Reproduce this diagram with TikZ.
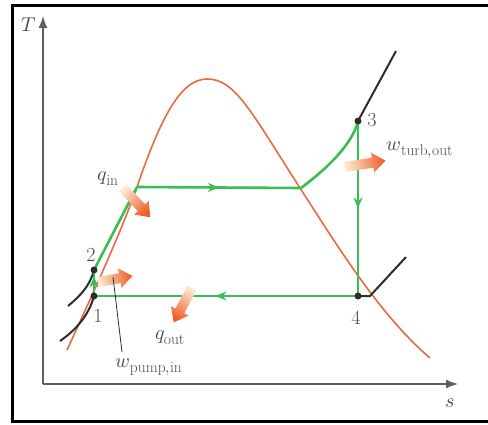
\documentclass[tikz,border=0pt]{standalone}
\usepackage{unicode-math}
\setmathfont{Latin Modern Math}
\DeclareMathSizes{20}{20}{15.5}{12}
\usetikzlibrary{arrows.meta,decorations.markings}

\definecolor{cyclegreen}{RGB}{55,190,85}
\definecolor{domered}{RGB}{232,105,68}
\definecolor{isobar}{RGB}{45,45,45}
\definecolor{axisgray}{RGB}{95,95,95}
\definecolor{labelgray}{RGB}{75,75,75}
\definecolor{heatdark}{RGB}{240,95,40}
\definecolor{heatlight}{RGB}{253,232,210}

\tikzset{
  cycle/.style={cyclegreen, line width=2.6pt},
  midarrow/.style={postaction={decorate}, decoration={markings,
      mark=at position #1 with {\arrow{Stealth[length=11pt,width=9pt]}}}},
  statept/.style={isobar, fill, circle, inner sep=0pt, minimum size=7pt},
  lbl/.style={labelgray, font=\fontsize{20}{24}\selectfont, inner sep=0pt},
  heat/.style={top color=heatdark, bottom color=heatlight, draw=none}
}

% thick shaded arrow for heat and work
\newcommand{\heatarrow}[3]{%
  \begin{scope}[shift={#1}, rotate=#2]
    \shade[heat, shading angle=#2-90] (0,-5) -- (#3-13,-5) -- (#3-13,-10)
      -- (#3,0) -- (#3-13,10) -- (#3-13,5) -- (0,5) -- cycle;
  \end{scope}}

\begin{document}
\begin{tikzpicture}[x=1pt, y=-1pt]
    \useasboundingbox (0,0) rectangle (488,424);

    % Frame
    \draw[line width=3pt] (12.5,5) rectangle (496,421);

    % Axes
    \coordinate (origin) at (43,384);
    \coordinate (taxis) at (43,16);
    \coordinate (saxis) at (458,384);
    \draw[axisgray, line width=1.3pt, -{Latex[length=12pt,width=9pt]}] (origin) -- (taxis);
    \draw[axisgray, line width=1.3pt, -{Latex[length=12pt,width=9pt]}] (origin) -- (saxis);
    \node[lbl] (tlabel) at (29,25) {$T$};
    \node[lbl] (slabel) at (450,403) {$s$};

    % Saturation dome
    \draw[domered, line width=1.6pt] (67,350) .. controls (90,300) and (120,235) .. (137,187)
      .. controls (160,120) and (180,79) .. (207,79)
      .. controls (235,79) and (250,110) .. (300,188)
      .. controls (340,250) and (380,315) .. (430,358);

    % State points
    \coordinate (p1) at (94,296);
    \coordinate (p2) at (94,270);
    \coordinate (p3) at (358,121);
    \coordinate (p4) at (358,296);
    \coordinate (satliq) at (137,187);
    \coordinate (satvap) at (301,188);
    \coordinate (crossv) at (370,296);

    % Isobars
    \draw[isobar, line width=2pt] (60,341) .. controls (76,330) and (89,315) .. (p1);
    \draw[isobar, line width=2pt] (68,306) .. controls (80,296) and (90,286) .. (p2);
    \draw[isobar, line width=2pt] (p3) -- (396,51);
    \draw[isobar, line width=2pt] (p4) -- (crossv) -- (406,257);

    % Rankine cycle
    \draw[cycle, midarrow=0.75] (p1) -- (p2);
    \draw[cycle] (p2) -- (satliq);
    \draw[cycle, midarrow=0.5] (satliq) -- (satvap);
    \draw[cycle] (satvap) .. controls (328,168) and (353,143) .. (p3);
    \draw[cycle, midarrow=0.5] (p3) -- (p4);
    \draw[cycle, midarrow=0.54] (p4) -- (p1);

    \node[statept] (dot1) at (p1) {};
    \node[statept] (dot2) at (p2) {};
    \node[statept] (dot3) at (p3) {};
    \node[statept] (dot4) at (p4) {};

    % Heat and work arrows
    \heatarrow{(123,188)}{-47}{40}
    \heatarrow{(98,282)}{10}{35}
    \heatarrow{(192,288)}{-118}{39}
    \heatarrow{(345,167)}{9}{41}

    % Labels
    \node[lbl] (n1) at (98,316) {1};
    \node[lbl] (n2) at (91,255) {2};
    \node[lbl] (n3) at (372,120) {3};
    \node[lbl] (n4) at (356,318) {4};
    \node[lbl] (qin) at (108,179) {$q_{\mathrm{in}}$};
    \node[lbl] (qout) at (170,338) {$q_{\mathrm{out}}$};
    \node[lbl] (wturb) at (420,150) {$w_{\mathrm{turb,out}}$};
    \node[lbl] (wpump) at (149,367) {$w_{\mathrm{pump,in}}$};

    % Leader for pump work
    \coordinate (pumptip) at (113,277);
    \draw[isobar, line width=0.8pt] (122,352) -- (pumptip);
\end{tikzpicture}
\end{document}
